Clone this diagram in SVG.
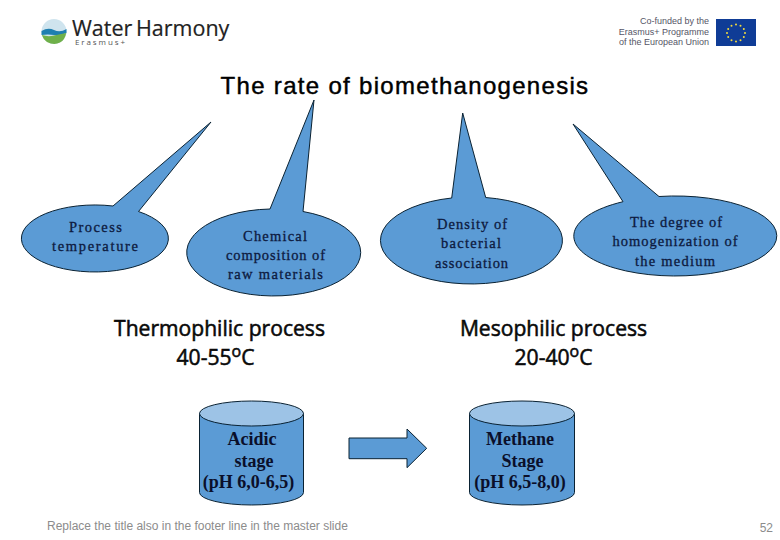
<svg xmlns="http://www.w3.org/2000/svg" width="780" height="540" viewBox="0 0 780 540">
<style>
.s{fill:#5b9bd5;stroke:#0a2233;stroke-width:1}
.top{fill:#9dc3e6;stroke:#0a2233;stroke-width:1}
.b{font-family:"Liberation Serif",serif;font-size:14.5px;fill:#0d1a40;text-anchor:middle;stroke:#0d1a40;stroke-width:.3px}
.c{font-family:"Liberation Serif",serif;font-size:18px;font-weight:bold;fill:#0a0f2a;text-anchor:middle}
.h{font-family:"Open Sans",sans-serif;font-size:21.100px;fill:#0a0a0a;text-anchor:middle;stroke:#0a0a0a;stroke-width:.55px}
.e{font-family:"Liberation Sans",sans-serif;font-size:9px;fill:#556;text-anchor:end}
</style>
<rect width="780" height="540" fill="#fff"/>
<g id="logo-water-harmony">
<circle cx="54" cy="31.500" r="12.500" fill="#cfe4ee"/>
<path d="M41.500 31 Q48 27 54 30 T66.500 29 L66.500 33 Q60 36 54 35 T41.500 35Z" fill="#1f7fb0"/>
<path d="M41.800 35 Q48 37 54 35.500 T66.200 33 Q65 40 60 42.500 Q54 45.500 47 42 Q43 39 41.800 35Z" fill="#6fb04a"/>
<text x="72" y="35.500" font-family="Open Sans,sans-serif" font-size="21.500" fill="#222" stroke="#222" stroke-width=".2">Water</text>
<text x="136" y="35.500" font-family="Open Sans,sans-serif" font-size="21.500" fill="#222" stroke="#222" stroke-width=".2">Harmony</text>
<text x="75" y="44.500" font-family="Open Sans,sans-serif" font-size="8" letter-spacing="1.900" fill="#555">Erasmus+</text>
</g>
<g id="logo-eu">
<text class="e" x="709" y="24">Co-funded by the</text>
<text class="e" x="709" y="34.500">Erasmus+ Programme</text>
<text class="e" x="709" y="45">of the European Union</text>
<rect x="716" y="19" width="40" height="27" fill="#0f3c96"/>
<g fill="#f4dc3c"><circle cx="736" cy="24.500" r="1"/><circle cx="740.500" cy="25.700" r="1"/><circle cx="743.800" cy="29" r="1"/><circle cx="745" cy="33" r="1"/><circle cx="743.800" cy="37" r="1"/><circle cx="740.500" cy="40.300" r="1"/><circle cx="736" cy="41.500" r="1"/><circle cx="731.500" cy="40.300" r="1"/><circle cx="728.200" cy="37" r="1"/><circle cx="727" cy="33" r="1"/><circle cx="728.200" cy="29" r="1"/><circle cx="731.500" cy="25.700" r="1"/></g>
</g>
<text id="title" x="405" y="94" font-family="Liberation Sans,sans-serif" font-size="24" letter-spacing="1.310" fill="#000" stroke="#000" stroke-width=".45" text-anchor="middle">The rate of biomethanogenesis</text>
<g id="bubble-process-temperature">
<path class="s" d="M113 206 L211 122 L138.500 211.500 A73.500 33.500 0 1 1 113 206Z"/>
<text class="b" x="95.500" y="232" textLength="53">Process</text><text class="b" x="95" y="251" textLength="86">temperature</text>
</g>
<g id="bubble-chemical-composition">
<path class="s" d="M270 209 L314 100 L303 211.500 A87 43.500 0 1 1 270 209Z"/>
<text class="b" x="275" y="241" textLength="64">Chemical</text><text class="b" x="275.500" y="260" textLength="99">composition of</text><text class="b" x="275.500" y="279" textLength="95">raw materials</text>
</g>
<g id="bubble-density">
<path class="s" d="M451.700 198 L462.700 113 L485.700 197.500 A91 43.500 0 1 1 451.700 198Z"/>
<text class="b" x="472" y="229" textLength="70">Density of</text><text class="b" x="471" y="248" textLength="60">bacterial</text><text class="b" x="471.500" y="268" textLength="73">association</text>
</g>
<g id="bubble-homogenization">
<path class="s" d="M623 201.700 L573 124 L659 196.500 A101.500 40 0 1 1 623 201.700Z"/>
<text class="b" x="676" y="227" textLength="92">The degree of</text><text class="b" x="675" y="246" textLength="125">homogenization of</text><text class="b" x="675" y="266" textLength="80">the medium</text>
</g>
<g id="heading-thermophilic">
<text class="h" x="219.500" y="336">Thermophilic process</text><text class="h" x="215.500" y="365">40-55<tspan font-size="16" dy="-8">o</tspan><tspan dy="8">C</tspan></text>
</g>
<g id="heading-mesophilic">
<text class="h" x="553.500" y="336">Mesophilic process</text><text class="h" x="553.500" y="365">20-40<tspan font-size="16" dy="-8">o</tspan><tspan dy="8">C</tspan></text>
</g>
<g id="cylinder-acidic">
<path class="s" d="M199.500 413.500 V492.500 A52 12.500 0 0 0 303.500 492.500 V413.500Z"/>
<ellipse class="top" cx="251.500" cy="413.500" rx="52" ry="12.500"/>
<text class="c" x="252" y="445">Acidic</text><text class="c" x="254" y="466.500">stage</text><text class="c" x="248.500" y="488">(pH 6,0-6,5)</text>
</g>
<g id="cylinder-methane">
<path class="s" d="M469.500 413.500 V492.500 A52.500 12.500 0 0 0 574.500 492.500 V413.500Z"/>
<ellipse class="top" cx="522" cy="413.500" rx="52.500" ry="12.500"/>
<text class="c" x="520" y="445">Methane</text><text class="c" x="522.500" y="466.500">Stage</text><text class="c" x="520" y="488">(pH 6,5-8,0)</text>
</g>
<g id="connectors">
<path class="s" d="M349 438 H407 V429 L426.700 448.300 L407 467.700 V458.700 H349Z"/>
</g>
<text id="footer" x="47" y="530" font-family="Liberation Sans,sans-serif" font-size="12" fill="#8c8c8c">Replace the title also in the footer line in the master slide</text>
<text id="page" x="773" y="532" font-family="Liberation Sans,sans-serif" font-size="12" fill="#8c8c8c" text-anchor="end">52</text>
</svg>
